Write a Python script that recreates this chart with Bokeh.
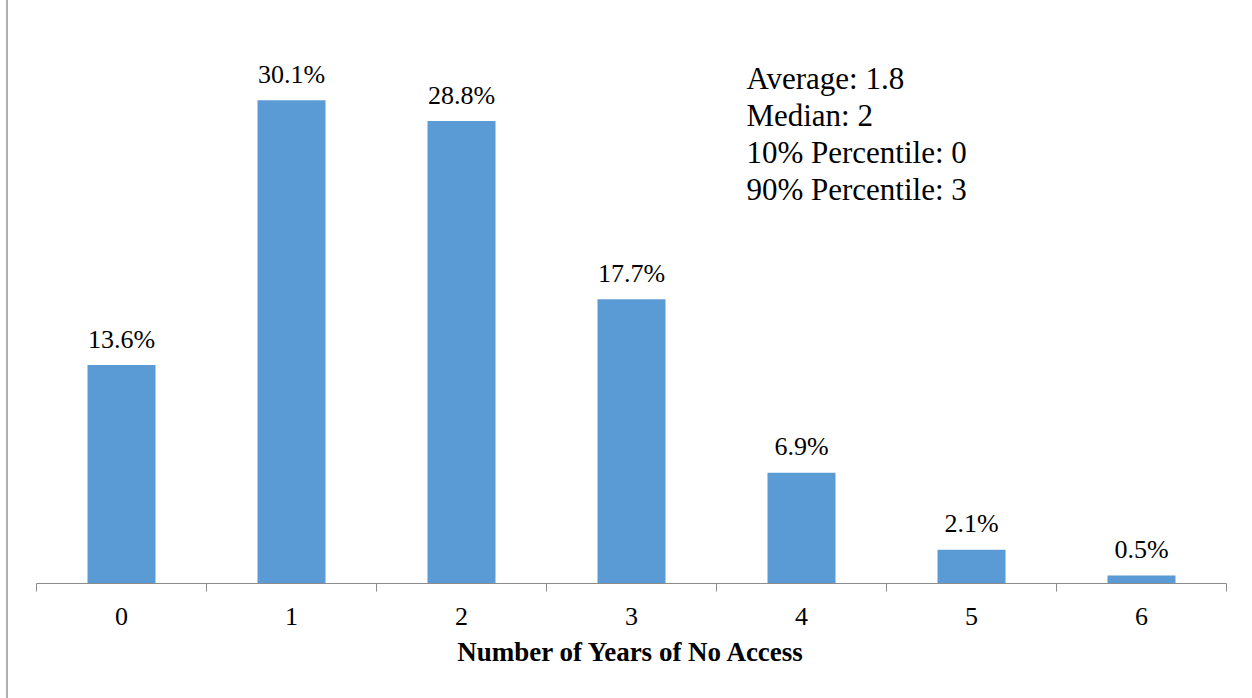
from bokeh.plotting import figure
from bokeh.models import ColumnDataSource, FixedTicker, Range1d
from bokeh.core.properties import value
from bokeh.embed import file_html
from bokeh.resources import INLINE

# Share of respondents by number of years without access
years = ["0", "1", "2", "3", "4", "5", "6"]
shares = [13.6, 30.1, 28.8, 17.7, 6.9, 2.1, 0.5]
stats_lines = ["Average: 1.8", "Median: 2", "10% Percentile: 0", "90% Percentile: 3"]
x_title = "Number of Years of No Access"

SERIF = "'Liberation Serif', 'Times New Roman', serif"
BAR_COLOR = "#5B9BD5"
AXIS_COLOR = "#8C8C8C"

centers = [i + 0.5 for i in range(len(years))]
source = ColumnDataSource(dict(
    x=centers,
    top=shares,
    label=[f"{v:.1f}%" for v in shares],
))

PAGE_W = 1252
INSET = 8  # left rule of the chart area

p = figure(
    width=PAGE_W - INSET, height=698,
    x_range=Range1d(0, len(years)), y_range=Range1d(0, 35),
    y_axis_type=None,
    output_backend="svg", toolbar_location=None,
    min_border_left=36 - INSET, min_border_right=26,
    min_border_top=21, min_border_bottom=115,
)
p.styles = {"margin-left": "6px", "border-left": "2px solid #B0B0B0"}
p.outline_line_color = None
p.xgrid.visible = False
p.ygrid.visible = False
p.background_fill_color = "white"
p.border_fill_color = "white"

p.vbar(x="x", top="top", width=0.4, source=source,
       fill_color=BAR_COLOR, line_color=None)

p.text(x="x", y="top", text="label", source=source,
       text_align="center", text_baseline="alphabetic", y_offset=-26,
       text_font=value(SERIF), text_font_size="26px", text_color="black")

# Summary statistics block, one line per entry
stat_x = 4.176
stat_y0 = 31.45
stat_step = 2.30
p.text(x=[stat_x] * len(stats_lines),
       y=[stat_y0 - i * stat_step for i in range(len(stats_lines))],
       text=stats_lines,
       text_align="left", text_baseline="alphabetic",
       text_font=value(SERIF), text_font_size="31px", text_color="black")

# Category axis: labels at the bar centres, tick marks on the boundaries
ax = p.xaxis[0]
ax.ticker = FixedTicker(ticks=centers, minor_ticks=list(range(len(years) + 1)))
ax.major_label_overrides = {c: y for c, y in zip(centers, years)}
ax.major_tick_in = 0
ax.major_tick_out = 0
ax.minor_tick_in = 0
ax.minor_tick_out = 8
ax.minor_tick_line_color = AXIS_COLOR
ax.axis_line_color = AXIS_COLOR
ax.axis_line_width = 1
ax.major_label_standoff = 16
ax.major_label_text_font = SERIF
ax.major_label_text_font_size = "26px"
ax.major_label_text_color = "black"
ax.axis_label = x_title
ax.axis_label_standoff = 9
ax.axis_label_text_font = SERIF
ax.axis_label_text_font_size = "27px"
ax.axis_label_text_font_style = "bold"
ax.axis_label_text_color = "black"

open("out.html", "w").write(file_html(p, INLINE))
